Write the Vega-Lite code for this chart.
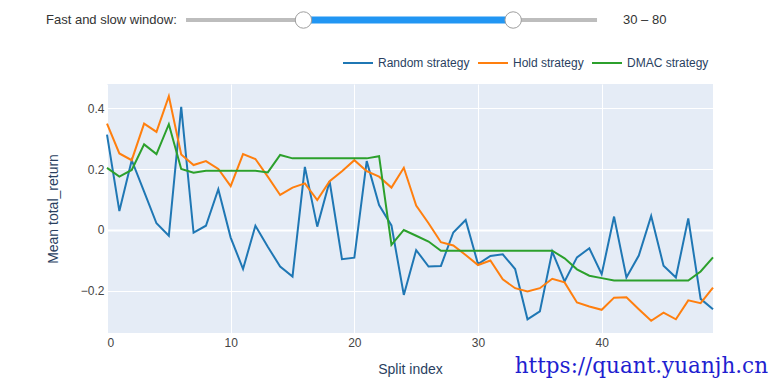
{
  "$schema": "https://vega.github.io/schema/vega-lite/v6.json",
  "padding": {"left": 46, "top": 9, "right": 5, "bottom": 5},
  "bounds": "flush",
  "spacing": 55,
  "background": "white",
  "config": {"view": {"stroke": null}, "font": "Liberation Sans"},
  "datasets": {
    "track": [{"lo": 2, "hi": 100}],
    "sel": [{"lo": 30, "hi": 80}],
    "handles": [{"w": 30}, {"w": 80}],
    "leftlabel": [{"pos": -0.2, "txt": "Fast and slow window:"}],
    "rightlabel": [{"pos": 106.2, "txt": "30 – 80"}],
    "lines": [
      {"i":0,"s":"Random strategy","v":0.313},{"i":1,"s":"Random strategy","v":0.062},{"i":2,"s":"Random strategy","v":0.229},{"i":3,"s":"Random strategy","v":0.126},{"i":4,"s":"Random strategy","v":0.022},{"i":5,"s":"Random strategy","v":-0.019},{"i":6,"s":"Random strategy","v":0.404},{"i":7,"s":"Random strategy","v":-0.009},{"i":8,"s":"Random strategy","v":0.014},{"i":9,"s":"Random strategy","v":0.134},
      {"i":10,"s":"Random strategy","v":-0.025},{"i":11,"s":"Random strategy","v":-0.128},{"i":12,"s":"Random strategy","v":0.014},{"i":13,"s":"Random strategy","v":-0.055},{"i":14,"s":"Random strategy","v":-0.12},{"i":15,"s":"Random strategy","v":-0.153},{"i":16,"s":"Random strategy","v":0.207},{"i":17,"s":"Random strategy","v":0.011},{"i":18,"s":"Random strategy","v":0.16},{"i":19,"s":"Random strategy","v":-0.096},
      {"i":20,"s":"Random strategy","v":-0.091},{"i":21,"s":"Random strategy","v":0.226},{"i":22,"s":"Random strategy","v":0.082},{"i":23,"s":"Random strategy","v":0.015},{"i":24,"s":"Random strategy","v":-0.213},{"i":25,"s":"Random strategy","v":-0.066},{"i":26,"s":"Random strategy","v":-0.12},{"i":27,"s":"Random strategy","v":-0.118},{"i":28,"s":"Random strategy","v":-0.008},{"i":29,"s":"Random strategy","v":0.033},
      {"i":30,"s":"Random strategy","v":-0.112},{"i":31,"s":"Random strategy","v":-0.085},{"i":32,"s":"Random strategy","v":-0.08},{"i":33,"s":"Random strategy","v":-0.128},{"i":34,"s":"Random strategy","v":-0.293},{"i":35,"s":"Random strategy","v":-0.267},{"i":36,"s":"Random strategy","v":-0.071},{"i":37,"s":"Random strategy","v":-0.169},{"i":38,"s":"Random strategy","v":-0.09},{"i":39,"s":"Random strategy","v":-0.06},
      {"i":40,"s":"Random strategy","v":-0.145},{"i":41,"s":"Random strategy","v":0.044},{"i":42,"s":"Random strategy","v":-0.156},{"i":43,"s":"Random strategy","v":-0.084},{"i":44,"s":"Random strategy","v":0.046},{"i":45,"s":"Random strategy","v":-0.117},{"i":46,"s":"Random strategy","v":-0.156},{"i":47,"s":"Random strategy","v":0.038},{"i":48,"s":"Random strategy","v":-0.226},{"i":49,"s":"Random strategy","v":-0.26},
      {"i":0,"s":"Hold strategy","v":0.349},{"i":1,"s":"Hold strategy","v":0.251},{"i":2,"s":"Hold strategy","v":0.229},{"i":3,"s":"Hold strategy","v":0.349},{"i":4,"s":"Hold strategy","v":0.322},{"i":5,"s":"Hold strategy","v":0.439},{"i":6,"s":"Hold strategy","v":0.248},{"i":7,"s":"Hold strategy","v":0.213},{"i":8,"s":"Hold strategy","v":0.226},{"i":9,"s":"Hold strategy","v":0.2},
      {"i":10,"s":"Hold strategy","v":0.144},{"i":11,"s":"Hold strategy","v":0.249},{"i":12,"s":"Hold strategy","v":0.233},{"i":13,"s":"Hold strategy","v":0.175},{"i":14,"s":"Hold strategy","v":0.115},{"i":15,"s":"Hold strategy","v":0.139},{"i":16,"s":"Hold strategy","v":0.153},{"i":17,"s":"Hold strategy","v":0.098},{"i":18,"s":"Hold strategy","v":0.16},{"i":19,"s":"Hold strategy","v":0.193},
      {"i":20,"s":"Hold strategy","v":0.229},{"i":21,"s":"Hold strategy","v":0.193},{"i":22,"s":"Hold strategy","v":0.175},{"i":23,"s":"Hold strategy","v":0.139},{"i":24,"s":"Hold strategy","v":0.204},{"i":25,"s":"Hold strategy","v":0.08},{"i":26,"s":"Hold strategy","v":0.022},{"i":27,"s":"Hold strategy","v":-0.04},{"i":28,"s":"Hold strategy","v":-0.051},{"i":29,"s":"Hold strategy","v":-0.082},
      {"i":30,"s":"Hold strategy","v":-0.115},{"i":31,"s":"Hold strategy","v":-0.1},{"i":32,"s":"Hold strategy","v":-0.162},{"i":33,"s":"Hold strategy","v":-0.191},{"i":34,"s":"Hold strategy","v":-0.202},{"i":35,"s":"Hold strategy","v":-0.191},{"i":36,"s":"Hold strategy","v":-0.16},{"i":37,"s":"Hold strategy","v":-0.172},{"i":38,"s":"Hold strategy","v":-0.238},{"i":39,"s":"Hold strategy","v":-0.251},
      {"i":40,"s":"Hold strategy","v":-0.262},{"i":41,"s":"Hold strategy","v":-0.222},{"i":42,"s":"Hold strategy","v":-0.221},{"i":43,"s":"Hold strategy","v":-0.26},{"i":44,"s":"Hold strategy","v":-0.298},{"i":45,"s":"Hold strategy","v":-0.271},{"i":46,"s":"Hold strategy","v":-0.293},{"i":47,"s":"Hold strategy","v":-0.231},{"i":48,"s":"Hold strategy","v":-0.24},{"i":49,"s":"Hold strategy","v":-0.189},
      {"i":0,"s":"DMAC strategy","v":0.204},{"i":1,"s":"DMAC strategy","v":0.175},{"i":2,"s":"DMAC strategy","v":0.197},{"i":3,"s":"DMAC strategy","v":0.281},{"i":4,"s":"DMAC strategy","v":0.249},{"i":5,"s":"DMAC strategy","v":0.347},{"i":6,"s":"DMAC strategy","v":0.2},{"i":7,"s":"DMAC strategy","v":0.188},{"i":8,"s":"DMAC strategy","v":0.194},{"i":9,"s":"DMAC strategy","v":0.194},
      {"i":10,"s":"DMAC strategy","v":0.194},{"i":11,"s":"DMAC strategy","v":0.194},{"i":12,"s":"DMAC strategy","v":0.194},{"i":13,"s":"DMAC strategy","v":0.189},{"i":14,"s":"DMAC strategy","v":0.246},{"i":15,"s":"DMAC strategy","v":0.235},{"i":16,"s":"DMAC strategy","v":0.235},{"i":17,"s":"DMAC strategy","v":0.235},{"i":18,"s":"DMAC strategy","v":0.235},{"i":19,"s":"DMAC strategy","v":0.235},
      {"i":20,"s":"DMAC strategy","v":0.235},{"i":21,"s":"DMAC strategy","v":0.235},{"i":22,"s":"DMAC strategy","v":0.242},{"i":23,"s":"DMAC strategy","v":-0.049},{"i":24,"s":"DMAC strategy","v":0.0},{"i":25,"s":"DMAC strategy","v":-0.019},{"i":26,"s":"DMAC strategy","v":-0.038},{"i":27,"s":"DMAC strategy","v":-0.068},{"i":28,"s":"DMAC strategy","v":-0.068},{"i":29,"s":"DMAC strategy","v":-0.068},
      {"i":30,"s":"DMAC strategy","v":-0.068},{"i":31,"s":"DMAC strategy","v":-0.068},{"i":32,"s":"DMAC strategy","v":-0.068},{"i":33,"s":"DMAC strategy","v":-0.068},{"i":34,"s":"DMAC strategy","v":-0.068},{"i":35,"s":"DMAC strategy","v":-0.068},{"i":36,"s":"DMAC strategy","v":-0.068},{"i":37,"s":"DMAC strategy","v":-0.093},{"i":38,"s":"DMAC strategy","v":-0.129},{"i":39,"s":"DMAC strategy","v":-0.15},
      {"i":40,"s":"DMAC strategy","v":-0.158},{"i":41,"s":"DMAC strategy","v":-0.166},{"i":42,"s":"DMAC strategy","v":-0.166},{"i":43,"s":"DMAC strategy","v":-0.166},{"i":44,"s":"DMAC strategy","v":-0.166},{"i":45,"s":"DMAC strategy","v":-0.166},{"i":46,"s":"DMAC strategy","v":-0.166},{"i":47,"s":"DMAC strategy","v":-0.166},{"i":48,"s":"DMAC strategy","v":-0.136},{"i":49,"s":"DMAC strategy","v":-0.09}
    ]
  },
  "vconcat": [
    {
      "width": 606,
      "height": 18,
      "layer": [
        {
          "data": {"name": "track"},
          "mark": {"type": "rule", "color": "#bdbdbd", "strokeWidth": 4},
          "encoding": {
            "x": {"field": "lo", "type": "quantitative", "scale": {"domain": [-16.84, 127.65], "nice": false, "zero": false}, "axis": null},
            "x2": {"field": "hi"},
            "y": {"datum": 0, "type": "quantitative", "scale": {"domain": [-1, 1]}, "axis": null}
          }
        },
        {
          "data": {"name": "sel"},
          "mark": {"type": "rule", "color": "#2196f3", "strokeWidth": 7},
          "encoding": {
            "x": {"field": "lo", "type": "quantitative"},
            "x2": {"field": "hi"},
            "y": {"datum": 0, "type": "quantitative"}
          }
        },
        {
          "data": {"name": "handles"},
          "mark": {"type": "point", "shape": "circle", "filled": true, "fill": "white", "stroke": "#9e9e9e", "strokeWidth": 1, "size": 270, "opacity": 1},
          "encoding": {
            "x": {"field": "w", "type": "quantitative"},
            "y": {"datum": 0, "type": "quantitative"}
          }
        },
        {
          "data": {"name": "leftlabel"},
          "mark": {"type": "text", "fontSize": 13, "color": "#333333", "baseline": "middle", "align": "right"},
          "encoding": {
            "x": {"field": "pos", "type": "quantitative"},
            "y": {"datum": 0, "type": "quantitative"},
            "text": {"field": "txt"}
          }
        },
        {
          "data": {"name": "rightlabel"},
          "mark": {"type": "text", "fontSize": 13, "color": "#333333", "baseline": "middle", "align": "left"},
          "encoding": {
            "x": {"field": "pos", "type": "quantitative"},
            "y": {"datum": 0, "type": "quantitative"},
            "text": {"field": "txt"}
          }
        }
      ]
    },
    {
      "width": 606,
      "height": 249,
      "title": {
        "text": "https://quant.yuanjh.cn",
        "orient": "bottom",
        "anchor": "end",
        "frame": "group",
        "baseline": "alphabetic",
        "offset": -3,
        "dx": 55,
        "font": "DejaVu Serif",
        "fontSize": 21.5,
        "fontWeight": "normal",
        "color": "#1f1fd0"
      },
      "view": {"fill": "#E5ECF6", "stroke": null},
      "data": {"name": "lines"},
      "mark": {"type": "line", "strokeWidth": 2},
      "encoding": {
        "x": {
          "field": "i", "type": "quantitative",
          "scale": {"domain": [0, 49], "nice": false, "zero": false},
          "axis": {
            "title": "Split index", "values": [0, 10, 20, 30, 40], "format": "d",
            "grid": true, "gridColor": "white", "gridWidth": 1,
            "domain": false, "ticks": false, "labelPadding": 4,
            "labelFontSize": 12, "labelColor": "#444", "labelFont": "Liberation Sans",
            "titleFontSize": 14, "titleFontWeight": "normal", "titleColor": "#2a3f5f", "titlePadding": 14, "titleFont": "Liberation Sans"
          }
        },
        "y": {
          "field": "v", "type": "quantitative",
          "scale": {"domain": [-0.338, 0.479], "nice": false, "zero": false},
          "axis": {
            "title": "Mean total_return", "values": [-0.2, 0, 0.2, 0.4],
            "labelExpr": "replace(format(datum.value, '.1~f'), '-', '−')",
            "grid": true, "gridColor": "white",
            "gridWidth": {"condition": {"test": "datum.value === 0", "value": 2}, "value": 1},
            "domain": false, "ticks": false, "labelPadding": 3,
            "labelFontSize": 12, "labelColor": "#444", "labelFont": "Liberation Sans",
            "titleFontSize": 14, "titleFontWeight": "normal", "titleColor": "#2a3f5f", "titlePadding": 20, "titleFont": "Liberation Sans"
          }
        },
        "color": {
          "field": "s", "type": "nominal",
          "scale": {"domain": ["Random strategy", "Hold strategy", "DMAC strategy"], "range": ["#1f77b4", "#ff7f0e", "#2ca02c"]},
          "legend": {
            "title": null, "orient": "none", "direction": "horizontal",
            "legendX": 235, "legendY": 36,
            "symbolType": "stroke", "symbolSize": 900, "symbolStrokeWidth": 2,
            "labelFontSize": 12, "labelColor": "#2a3f5f", "labelFont": "Liberation Sans",
            "labelOffset": 4, "columnPadding": 4, "padding": 0
          }
        }
      }
    }
  ]
}
